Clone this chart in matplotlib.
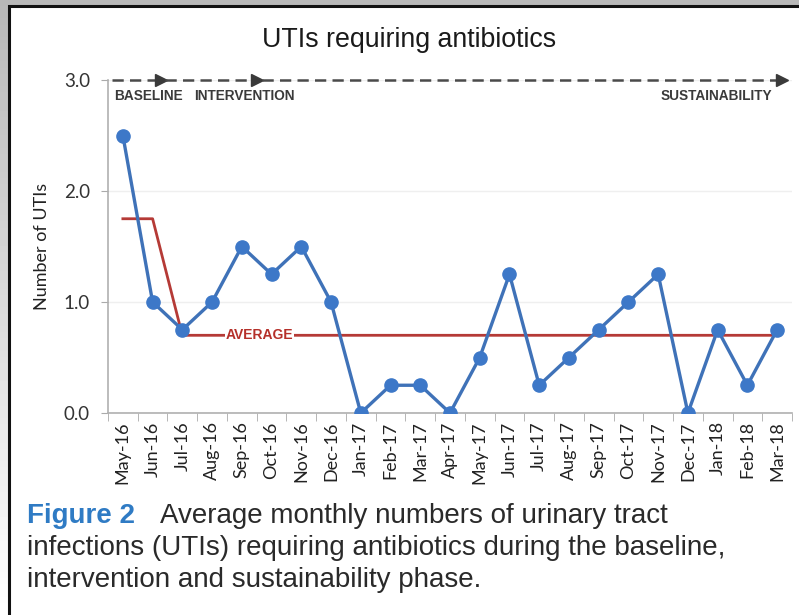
import numpy as np
import matplotlib.pyplot as plt
from matplotlib.patches import Rectangle

months = ['May-16', 'Jun-16', 'Jul-16', 'Aug-16', 'Sep-16', 'Oct-16', 'Nov-16',
          'Dec-16', 'Jan-17', 'Feb-17', 'Mar-17', 'Apr-17', 'May-17', 'Jun-17',
          'Jul-17', 'Aug-17', 'Sep-17', 'Oct-17', 'Nov-17', 'Dec-17', 'Jan-18',
          'Feb-18', 'Mar-18']
utis = [2.5, 1.0, 0.75, 1.0, 1.5, 1.25, 1.5, 1.0, 0.0, 0.25, 0.25, 0.0,
        0.5, 1.25, 0.25, 0.5, 0.75, 1.0, 1.25, 0.0, 0.75, 0.25, 0.75]

# average line: baseline mean, then overall mean
avg_months = ['May-16', 'Jun-16', 'Jul-16', 'Mar-18']
avg_values = [1.75, 1.75, 0.70, 0.70]

phases = ['BASELINE', 'INTERVENTION', 'SUSTAINABILITY']

W, H = 799, 615
fig = plt.figure(figsize=(W / 100, H / 100), dpi=100)
fig.patch.set_facecolor('white')

# gray page edge + black frame like the screenshot
bg = fig.add_axes([0, 0, 1, 1], zorder=-10)
grad = np.linspace(0.72, 1.0, 100)[:, None] * np.ones((1, 10))
bg.imshow(grad, cmap='gray', vmin=0, vmax=1, aspect='auto', extent=[0, 1, 0, 1])
bg.axis('off')
fig.patches.append(Rectangle((8.5 / W, -0.01), 1.0, 1 - 6 / H + 0.01,
                             transform=fig.transFigure, facecolor='white',
                             edgecolor='#111111', linewidth=2.2, zorder=-5))

ax = fig.add_axes([108 / W, 1 - 413 / H, 684 / W, 333 / H])
ax.set_facecolor('none')

x = np.arange(len(months))
avg_x = [months.index(m) for m in avg_months]

ax.plot(x, utis, color='#3f72b8', lw=2.4, marker='o', ms=9.5,
        markerfacecolor='#3d78c8', markeredgecolor='#3d78c8', zorder=3)
ax.plot(avg_x, avg_values, color='#b53a36', lw=2.0, zorder=2)
ax.text(4.6, avg_values[-1], 'AVERAGE', color='#b5302a', fontsize=10,
        fontweight='bold', family='Liberation Sans',
        ha='center', va='center', zorder=4,
        bbox=dict(facecolor='white', edgecolor='none', pad=0.5))

# phase arrows along the top
phase_ends = [1.42, 4.67, 22.3]
start = -0.37
for end in phase_ends:
    ax.plot([start, end - 0.3], [3.0, 3.0], color='#4a4a4a', lw=1.8,
            ls=(0, (4.5, 2.5)), clip_on=False, zorder=5)
    ax.plot(end - 0.15, 3.0, marker='>', ms=8, color='#3a3a3a', clip_on=False,
            zorder=5)
    start = end
lab_font = dict(fontsize=9.8, fontweight='bold', color='#3a3a3a', va='center',
                family='Liberation Sans')
ax.text(-0.28, 2.86, phases[0], ha='left', **lab_font)
ax.text(2.4, 2.86, phases[1], ha='left', **lab_font)
ax.text(21.85, 2.86, phases[2], ha='right', **lab_font)

ax.set_xlim(-0.5, 22.5)
ax.set_ylim(0, 3.0)
ax.set_yticks([0, 1, 2, 3])
ax.set_yticklabels(['0.0', '1.0', '2.0', '3.0'])
ax.set_xticks(x)
ax.set_xticklabels(months, rotation=90)
ax.set_xticks(np.arange(-0.5, 23, 1), minor=True)
ax.tick_params(axis='x', which='major', length=0, pad=6, labelsize=13,
               labelcolor='#222222')
ax.tick_params(axis='x', which='minor', length=6, color='#aaaaaa', direction='out')
ax.tick_params(axis='y', length=5, color='#aaaaaa', pad=8, labelsize=13.5,
               labelcolor='#333333')
for lbl in ax.get_xticklabels() + ax.get_yticklabels():
    lbl.set_family('Lato')
ax.grid(axis='y', color='#efefef', lw=1)
ax.set_axisbelow(True)
for s in ['top', 'right']:
    ax.spines[s].set_visible(False)
for s in ['left', 'bottom']:
    ax.spines[s].set_color('#b0b0b0')
    ax.spines[s].set_linewidth(1.2)

fig.text(42 / W, 1 - 246 / H, 'Number of UTIs', rotation=90, ha='center',
         va='center', fontsize=13, family='Lato', color='#222222')
fig.text(409 / W, 1 - 47 / H, 'UTIs requiring antibiotics', ha='center',
         va='baseline', fontsize=19.3, color='#1a1a1a', family='Liberation Sans')

cap = dict(fontsize=20, va='baseline', color='#2a2a2a', family='Liberation Sans')
fig.text(27 / W, 1 - 523 / H, 'Figure 2', fontweight='bold',
         **{**cap, 'color': '#2f7bc4'})
fig.text(160 / W, 1 - 523 / H, 'Average monthly numbers of urinary tract', **cap)
fig.text(27 / W, 1 - 555 / H,
         'infections (UTIs) requiring antibiotics during the baseline,', **cap)
fig.text(27 / W, 1 - 587 / H, 'intervention and sustainability phase.', **cap)

fig.savefig('out.png', dpi=100)
